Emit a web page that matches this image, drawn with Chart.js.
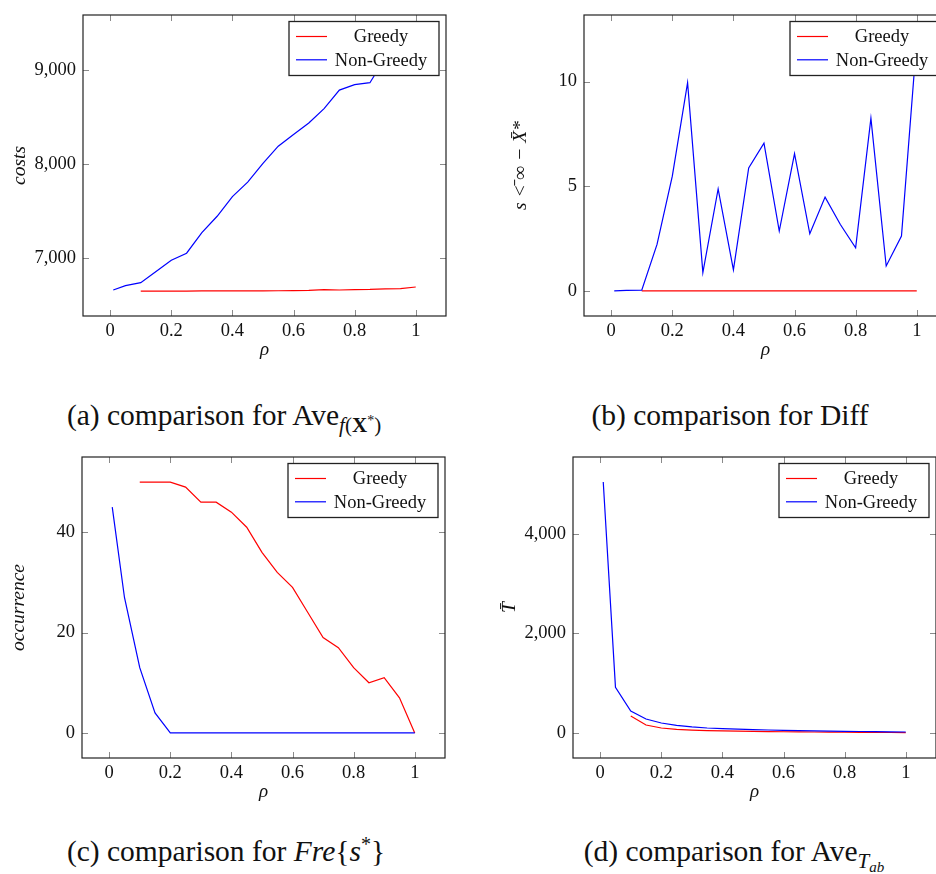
<!DOCTYPE html>
<html>
<head>
<meta charset="utf-8">
<script src="https://cdn.jsdelivr.net/npm/chart.js@4.4.0/dist/chart.umd.min.js"></script>
<style>
  html, body { margin: 0; padding: 0; background: #fff; overflow: hidden; width: 936px; height: 874px; }
  canvas { position: absolute; }
  .cap { position: absolute; width: 460px; text-align: center; font-family: 'Liberation Serif', serif;
         font-size: 29.5px; line-height: 29px; color: #111; white-space: nowrap; }
  .sb { font-size: 21px; position: relative; top: 7px; }
  .sb2 { font-size: 15px; position: relative; top: 4px; }
  .sp { font-size: 14px; position: relative; top: -7px; }
  .sp1 { font-size: 20px; position: relative; top: -10px; }
</style>
</head>
<body>
<div class="cap" style="left:-6px; top:401px">(a) comparison for Ave<span class="sb"><i>f</i>(<b>X</b><span class="sp">*</span>)</span></div>
<div class="cap" style="left:500px; top:401px">(b) comparison for Diff</div>
<div class="cap" style="left:-4px; top:837px">(c) comparison for <i>Fre</i>{<i>s</i><span class="sp1">*</span>}</div>
<div class="cap" style="left:504px; top:837px">(d) comparison for Ave<span class="sb"><i>T</i><span class="sb2"><i>ab</i></span></span></div>
<script>
// rho values
const rhoGreedy = [0.1, 0.15, 0.2, 0.25, 0.3, 0.35, 0.4, 0.45, 0.5, 0.55, 0.6, 0.65, 0.7, 0.75, 0.8, 0.85, 0.9, 0.95, 1];
const rhoNonGreedy = [0.01, 0.05, 0.1, 0.15, 0.2, 0.25, 0.3, 0.35, 0.4, 0.45, 0.5, 0.55, 0.6, 0.65, 0.7, 0.75, 0.8, 0.85, 0.9, 0.95, 1];
const xTicks = [0, 0.2, 0.4, 0.6, 0.8, 1];

// (a) costs
const costGreedy = [6654, 6654, 6654, 6654, 6655, 6655, 6655, 6656, 6656, 6657, 6658, 6661, 6670, 6665, 6670, 6671, 6676, 6680, 6697];
const costNonGreedy = [6665, 6712, 6743, 6862, 6982, 7056, 7275, 7448, 7656, 7811, 8009, 8192, 8316, 8439, 8591, 8788, 8845, 8866, 9130, 9225, 9319];
const costTicks = [7000, 8000, 9000];

// (b) diff
const diffGreedy = [0, 0, 0, 0, 0, 0, 0, 0, 0, 0, 0, 0, 0, 0, 0, 0, 0, 0, 0];
const diffNonGreedy = [0, 0.02, 0.03, 2.22, 5.48, 9.95, 0.87, 4.87, 1.0, 5.87, 7.06, 2.86, 6.56, 2.73, 4.48, 3.17, 2.06, 8.25, 1.19, 2.62, 12.0];
const diffTicks = [0, 5, 10];

// (c) occurrence
const freGreedy = [50, 50, 50, 49, 46, 46, 44, 41, 36, 32, 29, 24, 19, 17, 13, 10, 11, 7, 0];
const freNonGreedy = [45, 27, 13, 4, 0, 0, 0, 0, 0, 0, 0, 0, 0, 0, 0, 0, 0, 0, 0, 0, 0];
const freTicks = [0, 20, 40];

// (d) time
const timeGreedy = [342, 161, 100, 74, 58, 48, 41, 36, 32, 28, 25, 22, 20, 18, 16, 14, 12, 10, 8];
const timeNonGreedy = [5045, 918, 442, 281, 201, 154, 121, 100, 87, 76, 67, 60, 54, 48, 43, 38, 34, 30, 27, 24, 20];
const timeTicks = [0, 2000, 4000];

Chart.defaults.font.family = "'Liberation Serif', serif";
Chart.defaults.color = '#111';

const pts = (xs, ys) => xs.map((x, i) => ({ x: x, y: ys[i] }));

// inward ticks, frame and boxed legend like pgfplots
const pgfLook = {
  id: 'pgfLook',
  beforeDatasetsDraw(chart) {
    const { ctx, chartArea: a, scales } = chart;
    ctx.save();
    ctx.strokeStyle = '#8a8a8a';
    ctx.lineWidth = 1;
    ctx.beginPath();
    scales.x.ticks.forEach(t => {
      const px = Math.round(scales.x.getPixelForValue(t.value)) + 0.5;
      ctx.moveTo(px, a.bottom); ctx.lineTo(px, a.bottom - 6);
      ctx.moveTo(px, a.top); ctx.lineTo(px, a.top + 6);
    });
    scales.y.ticks.forEach(t => {
      const py = Math.round(scales.y.getPixelForValue(t.value)) + 0.5;
      ctx.moveTo(a.left, py); ctx.lineTo(a.left + 6, py);
      ctx.moveTo(a.right, py); ctx.lineTo(a.right - 6, py);
    });
    ctx.stroke();
    ctx.restore();
  },
  afterDatasetsDraw(chart) {
    const { ctx, chartArea: a } = chart;
    ctx.save();
    ctx.strokeStyle = '#222';
    ctx.lineWidth = 1.2;
    ctx.strokeRect(a.left, a.top, a.right - a.left, a.bottom - a.top);

    const bw = 150, bh = 54;
    const bx = a.right - 7 - bw, by = a.top + 6.5;
    ctx.fillStyle = '#fff';
    ctx.fillRect(bx, by, bw, bh);
    ctx.strokeStyle = '#222';
    ctx.lineWidth = 1.3;
    ctx.strokeRect(bx, by, bw, bh);
    ctx.font = "18.5px 'Liberation Serif', serif";
    ctx.textAlign = 'center';
    ctx.textBaseline = 'middle';
    chart.data.datasets.forEach((ds, i) => {
      const ry = by + 15 + i * 23.3;
      ctx.strokeStyle = ds.borderColor;
      ctx.lineWidth = 1.2;
      ctx.beginPath();
      ctx.moveTo(bx + 7, ry); ctx.lineTo(bx + 38, ry);
      ctx.stroke();
      ctx.fillStyle = '#111';
      ctx.fillText(ds.label, bx + 92, ry + 1);
    });
    ctx.restore();
  }
};

const panels = [
  { left: 83, top: 15, yMin: 6389, yMax: 9585, yTicks: costTicks, yTitle: 'costs', comma: true,
    g: costGreedy, n: costNonGreedy },
  { left: 584, top: 15, yMin: -1.2, yMax: 13.18, yTicks: diffTicks, yTitle: 's <\u0304 \u221e \u2212 X\u0304*', comma: false,
    g: diffGreedy, n: diffNonGreedy },
  { left: 82, top: 457, yMin: -5, yMax: 55, yTicks: freTicks, yTitle: 'occurrence', comma: false,
    g: freGreedy, n: freNonGreedy },
  { left: 573, top: 457, yMin: -503, yMax: 5548, yTicks: timeTicks, yTitle: 'T\u0304', comma: true,
    g: timeGreedy, n: timeNonGreedy }
];

const AXW = 80, AXH = 55, PADT = 24, PADR = 10, FW = 363, FH = 301;

function build() {
  panels.forEach(p => {
    const cv = document.createElement('canvas');
    cv.width = AXW + FW + PADR;
    cv.height = PADT + FH + AXH;
    cv.style.left = (p.left - AXW) + 'px';
    cv.style.top = (p.top - PADT) + 'px';
    cv.style.width = cv.width + 'px';
    cv.style.height = cv.height + 'px';
    document.body.appendChild(cv);

    new Chart(cv, {
      type: 'line',
      data: {
        datasets: [
          { label: 'Greedy', data: pts(rhoGreedy, p.g), borderColor: '#ff0000', order: 1 },
          { label: 'Non-Greedy', data: pts(rhoNonGreedy, p.n), borderColor: '#0000ff', order: 0 }
        ]
      },
      options: {
        responsive: false,
        animation: false,
        devicePixelRatio: 1,
        layout: { padding: { top: PADT, right: PADR, left: 0, bottom: 0 } },
        plugins: { legend: { display: false }, tooltip: { enabled: false } },
        elements: { point: { radius: 0 }, line: { borderWidth: 1.2, tension: 0 } },
        scales: {
          x: {
            type: 'linear', min: -0.089, max: 1.099,
            grid: { display: false, drawTicks: false },
            border: { display: false },
            afterBuildTicks: s => { s.ticks = xTicks.map(v => ({ value: v })); },
            afterFit: s => { s.height = AXH; },
            ticks: { padding: 4, autoSkip: false, maxRotation: 0, font: { size: 18.5 }, color: '#111',
                     callback: v => String(v) },
            title: { display: true, text: '\u03c1', color: '#111', font: { size: 19, style: 'italic' },
                     padding: { top: 0, bottom: 10 } }
          },
          y: {
            type: 'linear', min: p.yMin, max: p.yMax,
            grid: { display: false, drawTicks: false },
            border: { display: false },
            afterBuildTicks: s => { s.ticks = p.yTicks.map(v => ({ value: v })); },
            afterFit: s => { s.width = AXW; },
            ticks: { padding: 7, autoSkip: false, font: { size: 18.5 }, color: '#111',
                     callback: v => p.comma ? v.toLocaleString('en-US') : String(v) },
            title: { display: true, text: p.yTitle, color: '#111', font: { size: 19.5, style: 'italic' },
                     padding: { top: 5, bottom: 0 } }
          }
        }
      },
      plugins: [pgfLook]
    });
  });
}

Promise.all([
  document.fonts.load("18px 'Liberation Serif'"),
  document.fonts.load("italic 19px 'Liberation Serif'")
]).then(build, build);
</script>
</body>
</html>
